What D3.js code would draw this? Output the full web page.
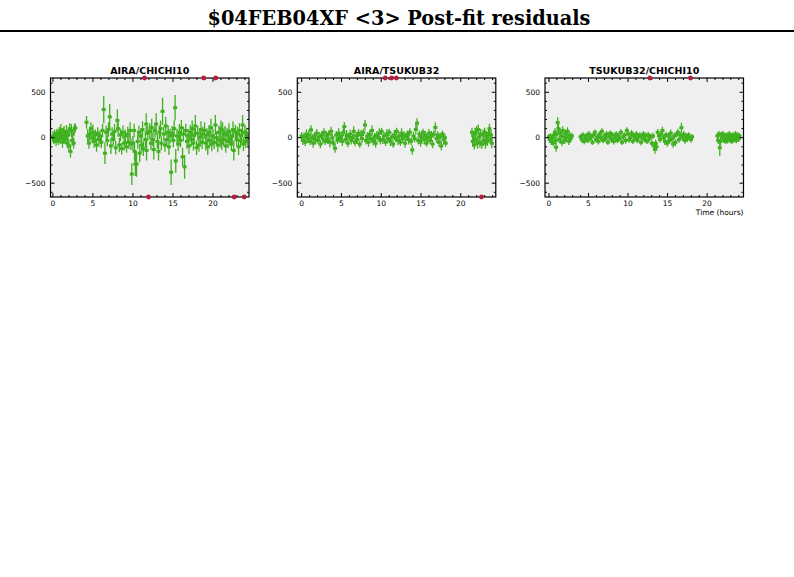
<!DOCTYPE html>
<html><head><meta charset="utf-8">
<script src="https://cdn.jsdelivr.net/npm/d3@7"></script>
<style>body{margin:0;background:#fff}</style>
</head><body>
<script>
const chartTitle = "$04FEB04XF <3> Post-fit residuals";
const baselines = ["AIRA/CHICHI10", "AIRA/TSUKUB32", "TSUKUB32/CHICHI10"];
const xTicks = [0, 5, 10, 15, 20];
const yTicks = [-500, 0, 500];
const xLabel = "Time (hours)";

// [time (h), residual, error]
const airaChichi = [
[0.0,10,60],[0.1,-20,50],[0.2,30,60],[0.3,0,45],[0.4,-40,55],[0.5,50,50],[0.6,20,70],[0.7,-30,50],[0.8,60,60],[0.9,-10,55],
[1.0,90,60],[1.1,20,50],[1.2,-50,60],[1.3,40,70],[1.4,70,60],[1.5,-20,50],[1.6,10,70],[1.7,60,80],[1.8,-60,55],[1.9,30,60],
[2.0,-90,70],[2.1,100,60],[2.2,-150,70],[2.3,80,70],[2.4,-30,60],[2.5,40,55],[2.6,-60,60],[2.7,100,50],[2.8,110,50],
[4.2,170,70],[4.35,20,75],[4.5,-60,60],[4.6,40,80],[4.75,100,70],[4.9,0,60],[5.0,60,85],[5.15,-40,70],
[5.3,30,60],[5.45,-80,75],[5.6,50,65],[5.75,-20,80],[5.9,20,60],[6.05,-50,65],[6.2,80,75],
[6.35,310,150],[6.5,-170,120],[6.65,60,75],[6.8,-30,65],[6.95,90,80],
[7.1,230,140],[7.25,-90,90],[7.4,40,75],[7.55,-20,65],[7.7,70,80],[7.85,-110,75],
[8.05,190,120],[8.15,100,90],[8.3,-80,80],[8.45,30,70],[8.6,-120,65],[8.75,60,75],[8.9,-60,80],
[9.05,20,70],[9.2,-100,65],[9.35,40,80],[9.5,-50,75],[9.65,80,90],[9.75,-70,65],
[9.86,-400,120],[10.0,-60,80],[10.15,80,75],[10.2,-150,110],[10.3,-290,130],[10.45,-290,140],[10.6,-40,80],[10.75,60,75],
[10.85,-170,100],[11.0,20,80],[11.1,-80,75],[11.2,90,90],[11.3,-120,80],[11.45,800,0],[11.55,-20,90],
[11.66,150,120],[11.7,-140,110],[11.85,50,80],[11.95,-800,0],[12.1,70,90],[12.25,-60,75],[12.35,110,100],[12.5,-20,80],
[12.6,-130,110],[12.75,80,80],[12.9,150,120],[13.05,-40,80],[13.2,-150,100],[13.3,60,75],
[13.45,100,90],[13.55,-60,75],[13.7,290,150],[13.85,40,80],[14.0,-80,75],[14.1,130,100],[14.25,-20,80],
[14.4,60,75],[14.5,-100,90],[14.65,20,80],[14.77,-380,140],[14.9,50,80],[15.05,-30,75],[15.15,100,90],
[15.27,330,140],[15.35,-255,130],[15.5,20,80],[15.65,-70,75],[15.8,60,90],[15.95,-30,75],[16.05,110,85],
[16.2,-210,100],[16.3,40,80],[16.45,-320,130],[16.6,80,75],[16.75,-40,80],[16.9,20,75],[17.0,-90,90],[17.15,60,80],
[17.3,-20,75],[17.4,100,90],[17.55,-60,80],[17.65,30,75],[17.8,130,120],[17.95,-110,80],
[18.1,50,80],[18.25,-80,75],[18.4,10,80],[18.5,90,90],[18.65,-50,75],[18.75,40,80],
[18.83,800,0],[18.95,80,90],[19.1,-60,80],[19.25,30,75],[19.35,-100,90],[19.5,60,80],[19.6,-30,75],[19.75,110,100],
[19.85,-70,80],[20.0,20,75],[20.15,-50,75],[20.3,140,110],
[20.34,800,0],[20.45,0,75],[20.6,-80,80],[20.75,60,75],[20.9,-30,80],[21.0,100,90],[21.1,-60,75],[21.2,85,85],
[21.35,-20,75],[21.5,50,80],[21.6,-90,75],[21.75,30,80],[21.9,-40,75],[22.0,70,90],[22.15,-10,75],
[22.3,-70,75],[22.4,20,80],[22.5,90,90],[22.6,-140,110],[22.65,-800,0],[22.8,60,80],
[22.95,-20,75],[23.05,40,80],[23.2,-100,90],[23.3,80,80],[23.45,-30,75],[23.55,20,80],[23.7,140,110],
[23.8,-70,75],[23.9,-800,0],[24.0,60,80],[24.1,-40,75],[24.2,30,80],[24.3,-10,75]
];

const airaTsukub = [
[0.0,20,40],[0.15,-30,50],[0.3,10,45],[0.45,-50,40],[0.6,40,50],[0.75,-10,45],[0.9,30,55],[1.05,-40,40],[1.17,86,50],
[1.3,0,45],[1.45,-60,50],[1.6,20,40],[1.75,-20,55],[1.9,50,45],[2.05,-30,40],[2.2,10,50],[2.35,-70,45],[2.5,30,40],
[2.65,-10,55],[2.8,60,45],[2.95,-40,40],[3.1,20,50],[3.25,-20,45],[3.4,40,40],[3.55,-50,55],[3.7,70,50],[3.85,0,45],
[4.0,-60,40],[4.2,-116,50],[4.35,30,45],[4.5,-30,40],[4.65,50,55],[4.8,-10,45],[4.95,20,40],[5.1,-40,50],[5.25,60,45],
[5.36,122,50],[5.5,-20,40],[5.65,30,55],[5.8,-60,45],[5.95,10,40],[6.1,40,50],[6.25,-30,45],[6.4,0,40],[6.55,70,55],
[6.7,-50,45],[6.85,20,40],[7.0,-20,50],[7.15,50,45],[7.3,-70,40],[7.45,30,55],[7.6,-10,45],[7.75,60,40],[7.96,140,55],
[8.1,-30,45],[8.25,20,40],[8.4,-50,50],[8.55,40,45],[8.7,-10,40],[8.85,80,55],[9.0,-40,45],[9.15,10,40],[9.3,-60,50],
[9.45,30,45],[9.6,0,40],[9.75,50,55],[9.9,-30,45],[10.05,70,40],[10.2,-20,50],[10.35,20,45],[10.5,800,0],[10.55,-50,40],
[10.7,40,55],[10.85,-10,45],[11.0,60,40],[11.15,-40,50],[11.3,800,0],[11.35,10,45],[11.5,-70,40],[11.65,30,55],[11.8,0,45],
[11.9,800,0],[11.95,70,40],[12.1,-30,50],[12.25,20,45],[12.4,-50,40],[12.55,50,55],[12.7,-10,45],[12.85,30,40],[13.0,-60,50],
[13.15,10,45],[13.3,40,40],[13.45,-20,55],[13.6,60,45],[13.75,-40,40],[13.9,-134,50],[14.05,20,45],[14.2,-10,40],[14.35,90,55],
[14.5,160,55],[14.65,-30,45],[14.8,40,40],[14.95,-50,50],[15.1,10,45],[15.25,60,40],[15.4,-20,55],[15.55,30,45],[15.7,-60,40],
[15.85,0,50],[16.0,50,45],[16.15,-30,40],[16.3,20,55],[16.45,-70,45],[16.6,40,40],[16.8,113,55],[16.95,-10,45],[17.1,30,40],
[17.25,-50,50],[17.4,10,45],[17.55,-90,50],[17.7,40,40],[17.85,-20,55],[18.0,0,45],[18.1,-60,40],
[21.4,60,50],[21.5,-40,60],[21.6,20,55],[21.7,-80,50],[21.8,50,60],[21.9,-20,55],[22.0,80,50],[22.1,-60,60],[22.2,90,55],
[22.3,10,50],[22.4,-50,60],[22.5,40,55],[22.6,-800,0],[22.65,-70,50],[22.8,30,60],[22.9,-30,55],[23.0,60,50],[23.1,-60,60],
[23.2,20,55],[23.35,-40,50],[23.5,50,60],[23.6,100,55],[23.7,-20,50],[23.8,30,60],[23.9,-60,55]
];

const tsukubChichi = [
[0.0,10,30],[0.1,-20,35],[0.2,20,30],[0.3,-40,40],[0.45,0,30],[0.55,-60,35],[0.65,30,40],[0.75,60,45],[0.85,-30,40],[0.9,-105,50],
[1.0,40,45],[1.1,166,60],[1.2,100,50],[1.3,-20,40],[1.4,60,45],[1.55,20,35],[1.65,-50,40],[1.75,80,45],[1.9,10,35],[2.0,-30,40],
[2.1,50,40],[2.25,0,35],[2.35,70,45],[2.5,-40,40],[2.6,30,35],[2.75,-10,40],[2.9,20,35],
[4.0,10,30],[4.15,-20,35],[4.3,30,30],[4.45,-40,35],[4.6,0,30],[4.75,20,35],[4.9,-30,30],[5.05,40,35],[5.2,-10,30],[5.35,10,35],
[5.5,-50,30],[5.65,30,35],[5.8,60,30],[5.95,-20,35],[6.1,10,30],[6.25,-40,35],[6.4,40,30],[6.55,0,35],[6.7,70,35],[6.85,-30,30],
[7.0,20,35],[7.15,-10,30],[7.3,40,35],[7.45,-50,30],[7.6,10,35],[7.75,50,30],[7.9,-20,35],[8.05,30,30],[8.2,-40,35],[8.35,0,30],
[8.5,40,35],[8.65,-30,30],[8.8,20,35],[8.95,-10,30],[9.1,60,35],[9.25,-50,30],[9.4,10,35],[9.55,30,30],[9.7,-30,35],[9.85,80,35],
[10.0,40,30],[10.15,-20,35],[10.3,0,30],[10.45,50,35],[10.6,-40,30],[10.75,20,35],[10.9,-10,30],[11.05,40,35],[11.2,-30,30],
[11.35,10,35],[11.5,30,30],[11.65,-50,35],[11.8,0,30],[11.95,40,35],[12.1,-20,30],[12.25,20,35],[12.4,-40,30],[12.55,30,35],
[12.7,-10,30],[12.75,800,0],[12.85,10,35],[13.0,-60,35],[13.15,20,35],[13.3,-90,40],[13.4,-127,50],[13.5,-60,40],[13.6,-100,45],
[13.75,60,35],[13.9,20,30],[14.05,-20,35],[14.2,40,35],[14.35,80,40],[14.5,0,35],[14.65,-40,40],[14.8,30,35],[14.95,-60,40],
[15.1,20,35],[15.25,-30,35],[15.4,50,40],[15.55,-10,35],[15.7,-70,40],[15.85,20,35],[16.0,-50,40],[16.15,40,35],[16.3,60,40],
[16.45,-20,35],[16.6,30,35],[16.75,110,55],[16.9,0,35],[17.05,40,35],[17.2,-30,35],[17.35,20,30],[17.5,-10,35],[17.65,30,30],
[17.8,0,30],[17.9,800,0],[17.95,-20,35],[18.1,10,30],
[21.3,20,35],[21.4,-30,40],[21.5,40,35],[21.6,-110,90],[21.7,-40,45],[21.8,30,35],[21.9,0,30],[22.0,40,35],[22.1,-20,30],
[22.2,20,35],[22.3,-40,30],[22.4,10,35],[22.5,30,30],[22.6,-30,35],[22.7,0,30],[22.8,40,35],[22.9,-20,30],[23.0,20,35],
[23.1,-40,30],[23.2,10,35],[23.3,30,30],[23.4,-20,35],[23.5,0,30],[23.6,40,35],[23.7,-30,30],[23.8,10,35],[23.9,30,30],
[24.0,-10,35],[24.1,20,30]
];

const seriesList = [airaChichi, airaTsukub, tsukubChichi];
const xDomains = [[-0.3, 24.5], [-0.55, 24.4], [-0.5, 24.6]];
const yDomain = [-652, 657];

const W = 794, H = 577;
const GREEN = "#3fb11f", RED = "#b3203f";
const svg = d3.select("body").append("svg").attr("width", W).attr("height", H);
svg.append("rect").attr("width", W).attr("height", H).attr("fill", "#fff");

svg.append("text").attr("x", 399).attr("y", 25).attr("text-anchor", "middle")
  .attr("font-family", "DejaVu Serif").attr("font-weight", "bold").attr("font-size", 20)
  .attr("textLength", 383).attr("lengthAdjust", "spacingAndGlyphs").text(chartTitle);
svg.append("line").attr("x1", 0).attr("x2", W).attr("y1", 31).attr("y2", 31)
  .attr("stroke", "#000").attr("stroke-width", 2);

const lefts = [50.5, 297.3, 545];
const pw = 198.5, plotTop = 78, ph = 119;

baselines.forEach((name, i) => {
  const x0 = lefts[i];
  const g = svg.append("g").attr("transform", `translate(${x0},${plotTop})`);
  const x = d3.scaleLinear().domain(xDomains[i]).range([0, pw]);
  const y = d3.scaleLinear().domain(yDomain).range([ph, 0]);

  g.append("rect").attr("width", pw).attr("height", ph).attr("fill", "#efefef");
  const clipId = "clip" + i;
  g.append("clipPath").attr("id", clipId).append("rect").attr("width", pw).attr("height", ph);
  const data = seriesList[i];
  const inRange = data.filter(d => d[1] >= yDomain[0] && d[1] <= yDomain[1]);
  const outRange = data.filter(d => d[1] < yDomain[0] || d[1] > yDomain[1]);
  const dg = g.append("g").attr("clip-path", `url(#${clipId})`);
  dg.selectAll("line.eb").data(inRange).join("line").attr("class", "eb")
    .attr("x1", d => x(d[0])).attr("x2", d => x(d[0]))
    .attr("y1", d => y(d[1] - d[2])).attr("y2", d => y(d[1] + d[2]))
    .attr("stroke", GREEN).attr("stroke-width", 1.3);
  dg.selectAll("rect.pt").data(inRange).join("rect").attr("class", "pt")
    .attr("x", d => x(d[0]) - 2).attr("y", d => y(d[1]) - 1.5)
    .attr("width", 4).attr("height", 3).attr("fill", GREEN);

  // ticks (inward, all sides)
  const tg = g.append("g").attr("stroke", "#000").attr("stroke-width", 1);
  const xMinor = d3.range(0, 25, 1).filter(v => v >= xDomains[i][0] && v <= xDomains[i][1]);
  xMinor.forEach(v => {
    const len = v % 5 === 0 ? 4 : 2;
    tg.append("line").attr("x1", x(v)).attr("x2", x(v)).attr("y1", ph).attr("y2", ph - len);
    tg.append("line").attr("x1", x(v)).attr("x2", x(v)).attr("y1", 0).attr("y2", len);
  });
  const yMinor = d3.range(-600, 601, 100);
  yMinor.forEach(v => {
    const len = v % 500 === 0 ? 4 : 2;
    tg.append("line").attr("x1", 0).attr("x2", len).attr("y1", y(v)).attr("y2", y(v));
    tg.append("line").attr("x1", pw).attr("x2", pw - len).attr("y1", y(v)).attr("y2", y(v));
  });
  g.append("rect").attr("width", pw).attr("height", ph).attr("fill", "none")
    .attr("stroke", "#000").attr("stroke-width", 1.2);

  // tick labels
  g.selectAll("text.xl").data(xTicks).join("text").attr("class", "xl")
    .attr("x", d => x(d)).attr("y", ph + 9).attr("text-anchor", "middle")
    .attr("font-family", "DejaVu Sans").attr("font-size", 7.5).text(d => d);
  g.selectAll("text.yl").data(yTicks).join("text").attr("class", "yl")
    .attr("x", -5).attr("y", d => y(d) + 2.7).attr("text-anchor", "end")
    .attr("font-family", "DejaVu Sans").attr("font-size", 7.5).text(d => d < 0 ? "\u2212" + Math.abs(d) : d);

  // outliers in red at edge
  g.selectAll("circle.out").data(outRange).join("circle").attr("class", "out")
    .attr("cx", d => x(d[0])).attr("cy", d => d[1] > 0 ? 0 : ph).attr("r", 2.4).attr("fill", RED);

  g.append("text").attr("x", pw / 2).attr("y", -4).attr("text-anchor", "middle")
    .attr("font-family", "DejaVu Sans").attr("font-weight", "bold").attr("font-size", 9.5).text(name);

  if (i === 2) {
    g.append("text").attr("x", pw).attr("y", ph + 18).attr("text-anchor", "end")
      .attr("font-family", "DejaVu Sans").attr("font-size", 7.5).text(xLabel);
  }
});
</script>
</body></html>
